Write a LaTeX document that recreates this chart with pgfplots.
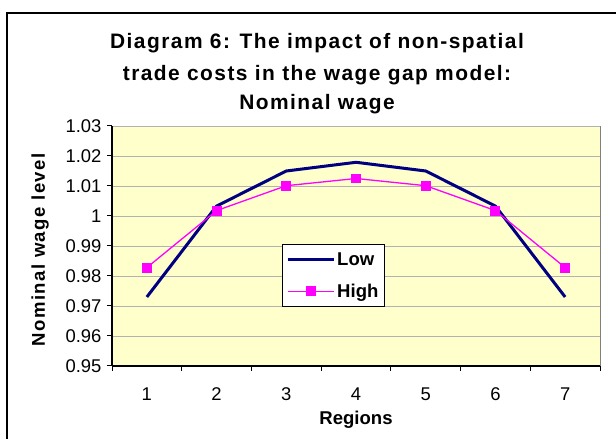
\documentclass[border=0pt]{standalone}
\usepackage{pgfplots}
\pgfplotsset{compat=1.18}
\usepackage{fontspec}
\setmainfont{Liberation Sans}
\newfontfamily\titlefont[LetterSpace=7]{Liberation Sans}
\newfontfamily\ylabfont[LetterSpace=8]{Liberation Sans}
\definecolor{plotbg}{RGB}{255,255,204}
\definecolor{gridgray}{RGB}{178,178,178}
\definecolor{lownavy}{RGB}{0,0,128}
\definecolor{highpink}{RGB}{255,0,255}
\begin{document}
\begin{tikzpicture}[x=1bp,y=1bp]
\useasboundingbox (0,0) rectangle (616,439);
% outer chart frame
\draw[line width=1.4bp] (7,-2) -- (7,426) -- (618,426);
% title
\node[anchor=base,font=\titlefont\bfseries\fontsize{21}{24}\selectfont] at (317,390) {Diagram 6: The impact of non-spatial};
\node[anchor=base,font=\titlefont\bfseries\fontsize{21}{24}\selectfont] at (317,358) {trade costs in the wage gap model:};
\node[anchor=base,font=\titlefont\bfseries\fontsize{21}{24}\selectfont] at (317,329) {Nominal wage};
% axis titles
\node[rotate=90,font=\ylabfont\bfseries\fontsize{18.6}{21}\selectfont] at (40,189) {Nominal wage level};
\node[anchor=base,font=\bfseries\fontsize{18.6}{21}\selectfont] at (356,14) {Regions};
\begin{axis}[
    at={(112bp,73bp)},
    anchor=south west,
    scale only axis,
    width=488bp,
    height=240bp,
    xmin=0.5, xmax=7.5,
    ymin=0.95, ymax=1.03,
    axis x line*=bottom,
    axis y line*=left,
    axis line style={line width=1.2bp, black},
    axis background/.style={fill=plotbg, draw=gray, line width=0.8bp},
    xtick={1,2,3,4,5,6,7},
    minor xtick={0.5,1.5,2.5,3.5,4.5,5.5,6.5,7.5},
    ytick={0.95,0.96,0.97,0.98,0.99,1,1.01,1.02,1.03},
    yticklabels={0.95,0.96,0.97,0.98,0.99,1,1.01,1.02,1.03},
    tick align=outside,
    x tick style={draw=none},
    minor x tick style={draw=black, line width=1bp},
    y tick style={draw=black, line width=1bp},
    major tick length=5bp,
    minor tick length=5bp,
    ymajorgrids=true,
    grid style={gridgray, line width=0.8bp},
    tick label style={font=\fontsize{18.5}{21}\selectfont},
    /pgf/number format/assume math mode=true,
    xticklabel style={yshift=-13bp},
    yticklabel style={xshift=-2bp},
    legend style={
        at={(0.348,0.508)}, anchor=north west,
        draw=black, fill=white, line width=0.8bp,
        font=\bfseries\fontsize{18.6}{21}\selectfont,
        row sep=13bp, inner xsep=4bp, inner ysep=6bp,
        cells={anchor=west}
    },
    legend image code/.code={
        \draw[mark repeat=2, mark phase=2, #1]
        plot coordinates {(0bp,0bp) (23bp,0bp) (46bp,0bp)};
    },
]
    \addplot[color=lownavy, line width=3bp, mark=none]
    coordinates {
    (1,0.973)(2,1.0033)(3,1.015)(4,1.0179)(5,1.015)(6,1.0033)(7,0.973)
    };
    \addlegendentry{Low}
    \addplot[color=highpink, line width=1.3bp, mark=square*, mark size=4.3bp,
        mark options={fill=highpink, solid}]
    coordinates {
    (1,0.9828)(2,1.0018)(3,1.0101)(4,1.0125)(5,1.0101)(6,1.0018)(7,0.9828)
    };
    \addlegendentry{High}
\end{axis}
\end{tikzpicture}
\end{document}
